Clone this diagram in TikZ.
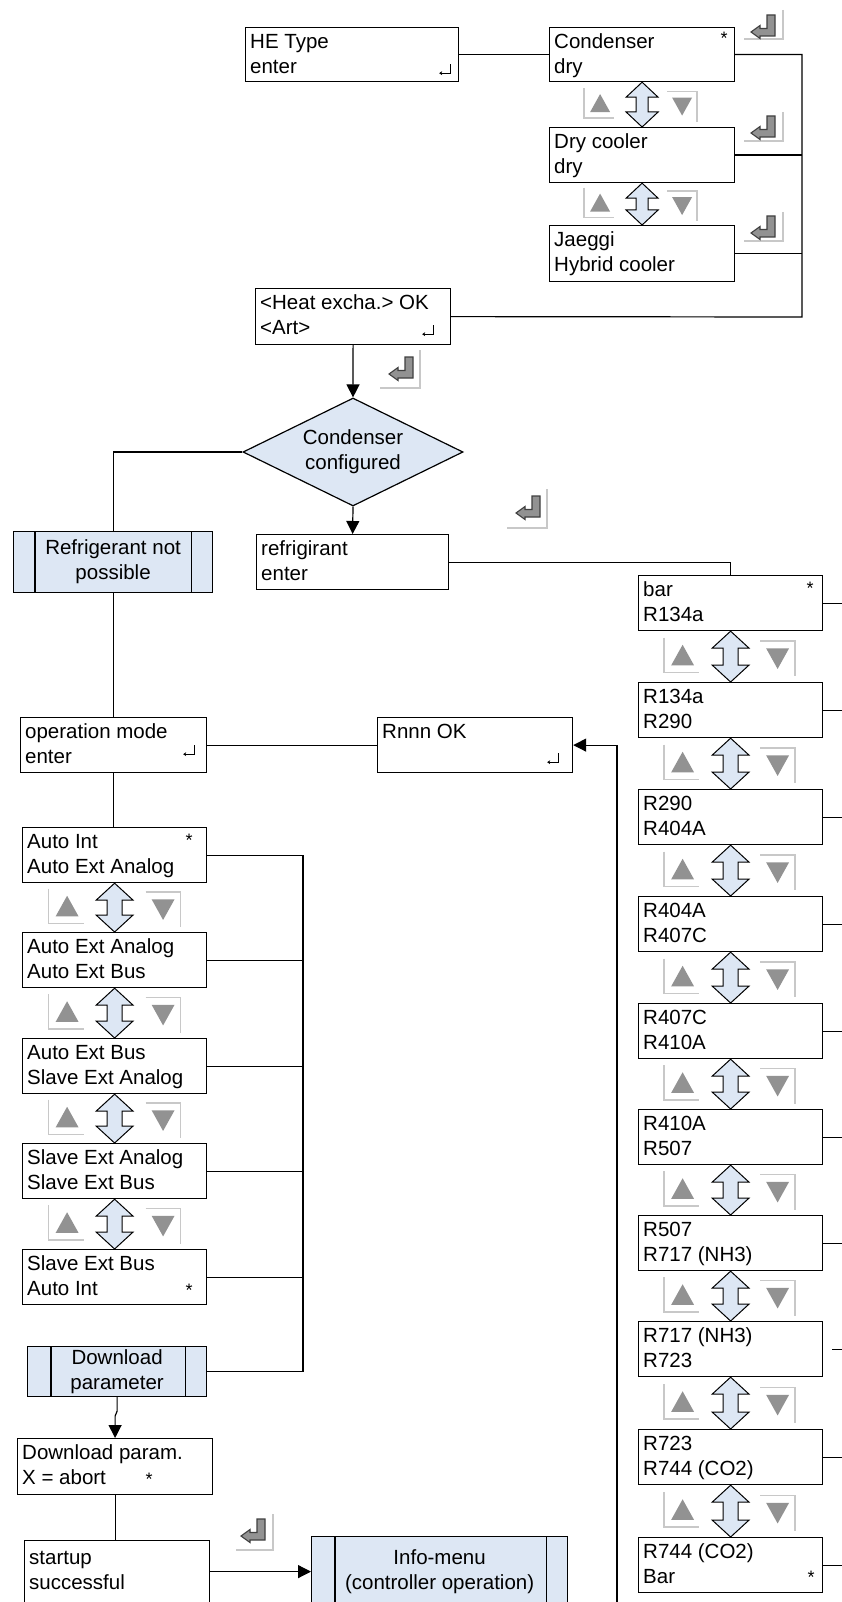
\documentclass[tikz,border=0pt]{standalone}
\usepackage{fontspec}
\setmainfont{Liberation Sans}
\usetikzlibrary{shapes.geometric,arrows.meta,calc}

\definecolor{panel}{RGB}{221,231,244}
\definecolor{keyfill}{RGB}{146,146,146}
\definecolor{keyline}{RGB}{64,64,64}
\definecolor{bevel}{RGB}{200,200,200}

\tikzset{
  menu/.style={draw, fill=white, line width=1.2pt, anchor=north west, inner sep=0pt},
  label/.style={anchor=north west, inner sep=0pt, align=left, font=\fontsize{20.5}{25}\selectfont},
  proc/.style={draw, fill=panel, line width=1.2pt, anchor=north west, inner sep=0pt},
  ctext/.style={inner sep=0pt, align=center, font=\fontsize{20.5}{25}\selectfont},
  link/.style={line width=1.2pt},
  flow/.style={line width=1.2pt, -{Triangle[length=13pt,width=13pt]}},
  dblarrow/.style={fill=panel, draw=black, line width=1pt, line join=miter},
  bevelline/.style={draw=bevel, line width=1.5pt},
  retsym/.style={line width=0.9pt, -{Stealth[length=3pt,width=4pt]}},
  starmark/.style={inner sep=0pt, anchor=north, font=\fontsize{18}{18}\selectfont},
}

% menu display: name, x, y (downwards), width, height, first line, second line
\newcommand\menubox[7]{%
  \node[menu, minimum width=#4, minimum height=#5] (#1) at (#2,-#3) {};
  \node[label] (#1-t) at ([shift={(5,-3.5)}]#1.north west) {\strut #6\\\strut #7};}

% predefined process: name, x, y, width, height, left inset, right inset, text
\newcommand\procbox[8]{%
  \node[proc, minimum width=#4, minimum height=#5] (#1) at (#2,-#3) {};
  \draw[link] ([xshift=#6]#1.north west) -- ([xshift=#6]#1.south west);
  \draw[link] ([xshift=-#7]#1.north east) -- ([xshift=-#7]#1.south east);
  \node[ctext] (#1-t) at (#1.center) {#8};}

% small return sign near the lower right corner of a display
\newcommand\retmark[3]{%
  \draw[retsym] ([shift={(#2,#3+9)}]#1.south east) -- ([shift={(#2,#3)}]#1.south east)
    -- ([shift={(#2-11,#3)}]#1.south east);}

% enter key: arrow corner (x,y), bevel box x1,y1,x2,y2 (y downwards)
\newcommand\enterkey[6]{%
  \draw[bevelline] (#5,-#4) -- (#5,-#6) -- (#3,-#6);
  \filldraw[fill=keyfill, draw=keyline, line width=1.1pt, line join=miter, shift={(#1,-#2)}]
    (-24,4) -- (-15,10.5) -- (-15,7.5) -- (-8,7.5) -- (-8,21) -- (0,21) -- (0,0)
    -- (-15,0) -- (-15,-2.5) -- cycle;}

% scrolling between two displays: double arrow plus up/down keys
\newcommand\navpair[9]{%
  \filldraw[dblarrow] (#1.south) -- ([shift={(#3,-#4)}]#1.south) -- ([shift={(#5,-#4)}]#1.south)
    -- ([shift={(#5,#4)}]#2.north) -- ([shift={(#3,#4)}]#2.north) -- (#2.north)
    -- ([shift={(-#3,#4)}]#2.north) -- ([shift={(-#5,#4)}]#2.north)
    -- ([shift={(-#5,-#4)}]#1.south) -- ([shift={(-#3,-#4)}]#1.south) -- cycle;
  \coordinate (#1-m) at ($(#1.south)!0.5!(#2.north)$);
  \begin{scope}[shift={($(#1-m)+(#6,1.5)$)}]
    \draw[bevelline] (-#8/2,#8/2) -- (-#8/2,-#8/2) -- (#8/2,-#8/2);
    \fill[keyfill] (-#9/2+1,-0.45*#9) -- (#9/2+1,-0.45*#9) -- (1,0.45*#9) -- cycle;
  \end{scope}
  \begin{scope}[shift={($(#1-m)+(#7,-2)$)}]
    \draw[bevelline] (-#8/2,#8/2) -- (#8/2,#8/2) -- (#8/2,-#8/2);
    \fill[keyfill] (-#9/2,0.45*#9) -- (#9/2,0.45*#9) -- (0,-0.45*#9) -- cycle;
  \end{scope}}

\begin{document}
\begin{tikzpicture}[x=1pt,y=1pt]
\useasboundingbox (0,0) rectangle (842,-1602);
\clip (0,0) rectangle (842,-1602);
\fill[white] (0,0) rectangle (842,-1602);

% ---- heat exchanger type
\menubox{HE}{245}{27}{213}{54}{HE Type}{enter}
\menubox{Cond}{549}{27}{185}{54}{Condenser}{dry}
\menubox{Dry}{549}{127}{185}{55}{Dry cooler}{dry}
\menubox{Jae}{549}{225}{185}{56}{Jaeggi}{Hybrid cooler}
\menubox{Heat}{255}{288}{195}{56}{\textless Heat excha.\textgreater{} OK}{\textless Art\textgreater}

\node[diamond, draw, fill=panel, line width=1.2pt, minimum width=220, minimum height=108,
      aspect=2, inner sep=0pt, align=center, font=\fontsize{20.5}{25}\selectfont]
      (D) at (353,-452) {\strut Condenser\\\strut configured};

\procbox{RNP}{13}{531}{199}{61}{22}{22}{\strut Refrigerant not\\\strut possible}
\menubox{Refr}{256}{534}{192}{55}{refrigirant}{enter}

% ---- operation mode
\menubox{Op}{20}{717}{186}{55}{operation mode}{enter}
\menubox{Rnnn}{377}{717}{195}{55}{Rnnn OK}{}

\menubox{M1}{22}{827}{184}{55}{Auto Int}{Auto Ext Analog}
\menubox{M2}{22}{932}{184}{55}{Auto Ext Analog}{Auto Ext Bus}
\menubox{M3}{22}{1038}{184}{55}{Auto Ext Bus}{Slave Ext Analog}
\menubox{M4}{22}{1143}{184}{55}{Slave Ext Analog}{Slave Ext Bus}
\menubox{M5}{22}{1249}{184}{55}{Slave Ext Bus}{Auto Int}

\procbox{Dl}{27}{1346}{179}{50}{24}{22}{\strut Download\\\strut parameter}
\menubox{DP}{17}{1438}{195}{56}{Download param.}{X = abort}
\node[menu, minimum width=185, minimum height=62] (St) at (24,-1540) {};
\node[label, anchor=west] (St-t) at ([xshift=5]St.west) {\strut startup\\\strut successful};
\procbox{Info}{311}{1536}{256}{70}{24}{22}{\strut Info-menu\\\strut (controller operation)}

% ---- refrigerant list
\menubox{R1}{638}{575}{184}{55}{bar}{R134a}
\menubox{R2}{638}{682}{184}{55}{R134a}{R290}
\menubox{R3}{638}{789}{184}{55}{R290}{R404A}
\menubox{R4}{638}{896}{184}{55}{R404A}{R407C}
\menubox{R5}{638}{1003}{184}{55}{R407C}{R410A}
\menubox{R6}{638}{1109}{184}{55}{R410A}{R507}
\menubox{R7}{638}{1215}{184}{55}{R507}{R717 (NH3)}
\menubox{R8}{638}{1321}{184}{55}{R717 (NH3)}{R723}
\menubox{R9}{638}{1429}{184}{55}{R723}{R744 (CO2)}
\menubox{R10}{638}{1537}{184}{55}{R744 (CO2)}{Bar}

% ---- markers inside the displays
\node[starmark] (s-cond) at ([shift={(-11,-4.5)}]Cond.north east) {*};
\node[starmark] (s-bar) at ([shift={(-13,-6.5)}]R1.north east) {*};
\node[starmark] (s-ai) at ([shift={(-18,-6.5)}]M1.north east) {*};
\node[starmark] (s-seb) at ([shift={(-18,21.5)}]M5.south east) {*};
\node[starmark] (s-r10) at ([shift={(-12,22.5)}]R10.south east) {*};
\node[starmark] (s-dp) at ([shift={(132,-34.5)}]DP.north west) {*};

\retmark{HE}{-9}{9}
\retmark{Heat}{-18}{11}
\retmark{Rnnn}{-15}{11}
\retmark{Op}{-13}{19}

% ---- connectors
\coordinate (hebus) at (802,-317);
\coordinate (modebus) at (303,0);
\coordinate (redge) at (846,0);
\coordinate (rnbus) at (617,-1612);

\draw[link] (HE.east) -- (Cond.west);
\draw[link] (Cond.east) -| (hebus) -- (Heat.east);
\draw[link] (Dry.east) -- (Dry.east -| hebus);
\draw[link] (Jae.east) -- (Jae.east -| hebus);
\draw[flow] (Heat.south) -- (D.north);
\draw[link] (D.west) -| (RNP.north);
\draw[flow] (D.south) -- (Refr.north);
\draw[link] (Refr.east) -| (R1.north);

\draw[link] (RNP.south) -- (RNP.south |- Op.north);
\draw[link] (Op.east) -- (Rnnn.west);
\draw[flow] (rnbus) |- (Rnnn.east);
\draw[link] (Op.south) -- (Op.south |- M1.north);

\draw[link] (M1.east) -| (modebus |- Dl.east) -- (Dl.east);
\foreach \m in {M2,M3,M4,M5} \draw[link] (\m.east) -- (\m.east -| modebus);
\draw[flow] (Dl.south) -- ++(0,-14) -- ($(DP.north)+(0,22)$) -- (DP.north);
\draw[link] (DP.south) -- (DP.south |- St.north);
\draw[flow] (St.east) -- (Info.west);

\foreach \r in {R1,R2,R3,R4,R5,R6,R7,R9,R10} \draw[link] (\r.east) -- (\r.east -| redge);
\draw[link] ([xshift=9]R8.east) -- (R8.east -| redge);

% ---- scrolling arrows and keys
\navpair{Cond}{Dry}{16}{15}{6}{-43}{40}{30}{20}
\navpair{Dry}{Jae}{16}{15}{6}{-43}{40}{30}{20}
\navpair{M1}{M2}{18.5}{17}{7.5}{-48.5}{48.5}{35}{23}
\navpair{M2}{M3}{18.5}{17}{7.5}{-48.5}{48.5}{35}{23}
\navpair{M3}{M4}{18.5}{17}{7.5}{-48.5}{48.5}{35}{23}
\navpair{M4}{M5}{18.5}{17}{7.5}{-48.5}{48.5}{35}{23}
\navpair{R1}{R2}{18.5}{17}{7.5}{-49}{47}{35}{23}
\navpair{R2}{R3}{18.5}{17}{7.5}{-49}{47}{35}{23}
\navpair{R3}{R4}{18.5}{17}{7.5}{-49}{47}{35}{23}
\navpair{R4}{R5}{18.5}{17}{7.5}{-49}{47}{35}{23}
\navpair{R5}{R6}{18.5}{17}{7.5}{-49}{47}{35}{23}
\navpair{R6}{R7}{18.5}{17}{7.5}{-49}{47}{35}{23}
\navpair{R7}{R8}{18.5}{17}{7.5}{-49}{47}{35}{23}
\navpair{R8}{R9}{18.5}{17}{7.5}{-49}{47}{35}{23}
\navpair{R9}{R10}{18.5}{17}{7.5}{-49}{47}{35}{23}

% ---- enter keys
\enterkey{775}{36}{744}{10}{783}{39}
\enterkey{775}{137}{744}{112}{783}{141}
\enterkey{775}{237}{744}{212}{783}{241}
\enterkey{413}{378}{380}{350}{420}{388}
\enterkey{540}{517}{507}{489}{547}{528}
\enterkey{265}{1540}{236}{1514}{273}{1550}
\end{tikzpicture}
\end{document}
